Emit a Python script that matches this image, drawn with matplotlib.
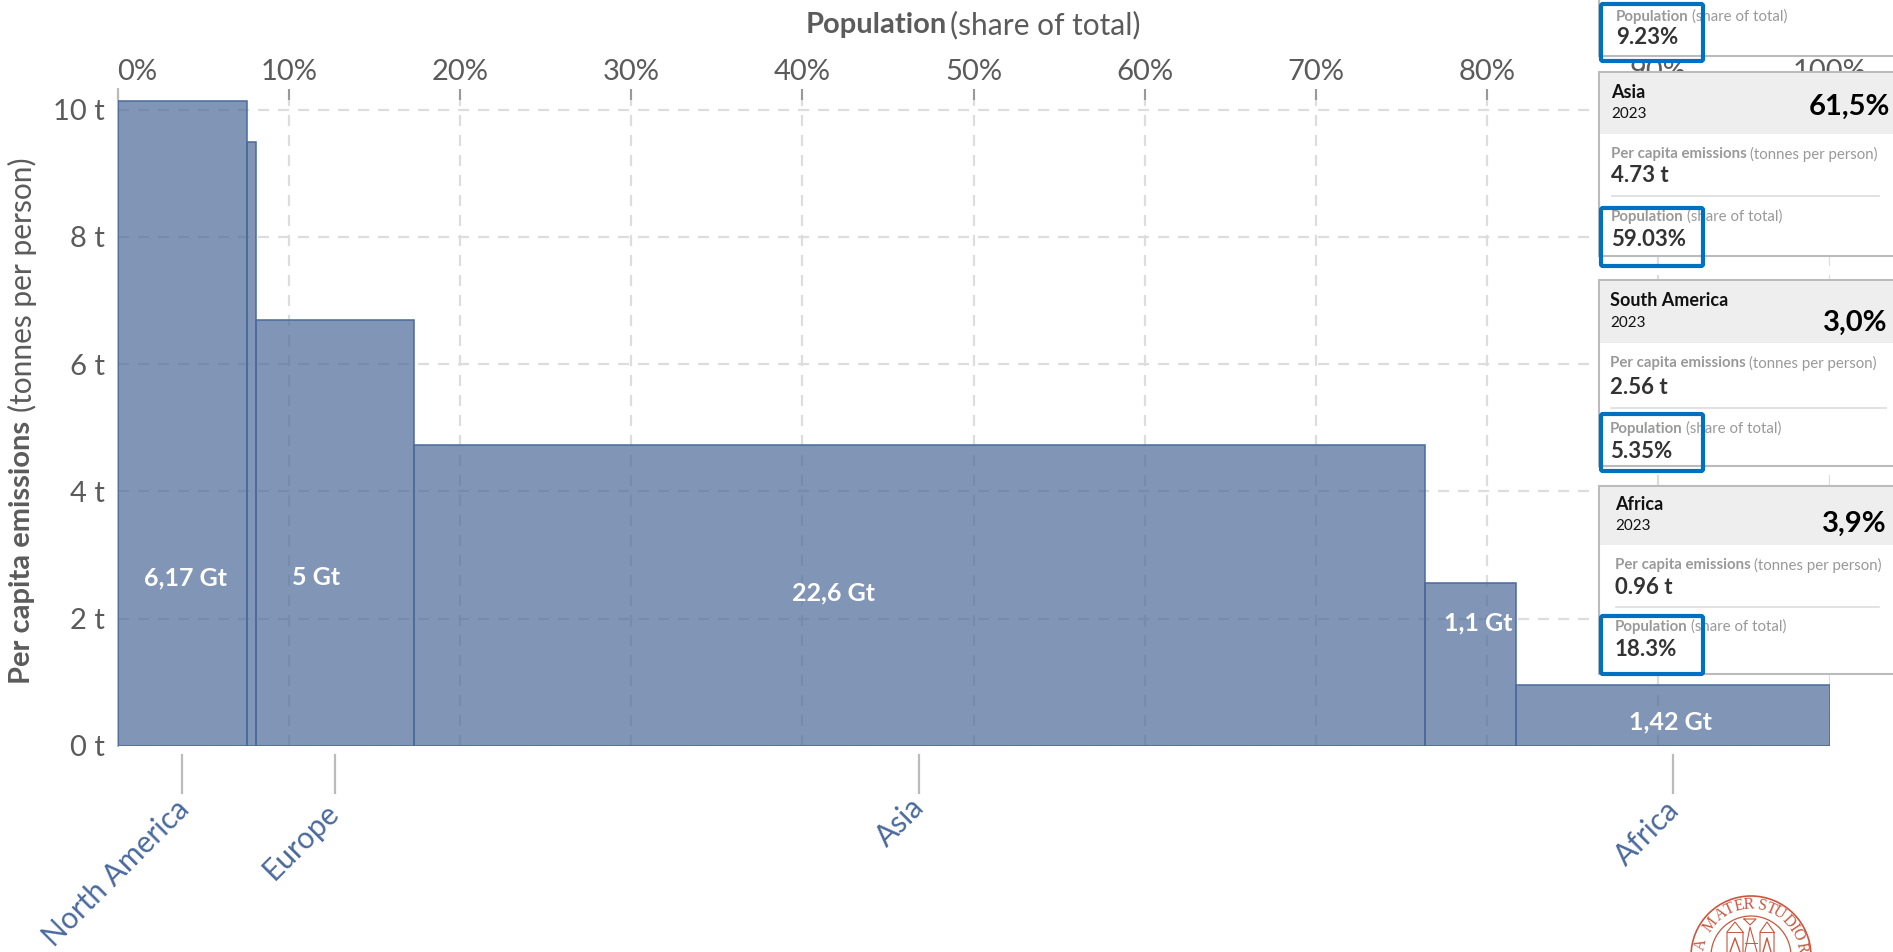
import numpy as np
import matplotlib
matplotlib.use('Agg')
import matplotlib.pyplot as plt
from matplotlib.patches import Rectangle, FancyBboxPatch, Circle

regions = ['North America', 'Oceania', 'Europe', 'Asia', 'South America', 'Africa']
pop_share = [7.55, 0.55, 9.23, 59.03, 5.35, 18.3]
per_capita = [10.13, 9.5, 6.69, 4.73, 2.56, 0.96]
x_ticks = [0, 10, 20, 30, 40, 50, 60, 70, 80, 90, 100]
y_ticks = [0, 2, 4, 6, 8, 10]

gt_labels = ['6,17 Gt', '5 Gt', '22,6 Gt', '1,1 Gt', '1,42 Gt']
gt_x = [4.0, 11.6, 41.8, 79.5, 90.7]
gt_y = [2.64, 2.64, 2.4, 1.93, 0.37]

card_names = ['Asia', 'South America', 'Africa']
card_share = ['61,5%', '3,0%', '3,9%']
card_capita = ['4.73 t', '2.56 t', '0.96 t']
card_pop = ['59.03%', '5.35%', '18.3%']

named = ['North America', 'Europe', 'Asia', 'Africa']

plt.rcParams['font.family'] = ['Lato', 'DejaVu Sans']
W, H = 1893, 952
blue = '#4a6a9e'
fill = '#4c6898'
gray = '#5b5b5b'

fig = plt.figure(figsize=(W / 100, H / 100), dpi=100)

# main axes, placed in pixels
x0, x1, y_top, y_bot = 117.5, 1829.5, 89, 745.7
ax = fig.add_axes([x0 / W, 1 - y_bot / H, (x1 - x0) / W, (y_bot - y_top) / H])
ax.set_xlim(0, 100)
ax.set_ylim(0, (y_bot - y_top) / 63.6)

left = np.concatenate([[0], np.cumsum(pop_share)[:-1]])
ax.bar(left, per_capita, width=pop_share, align='edge', color=fill, alpha=0.7, zorder=3)
ax.bar(left, per_capita, width=pop_share, align='edge', facecolor='none', edgecolor=blue, linewidth=1.1, zorder=4)

ax.grid(True, color='#dddddd', linestyle=(0, (5, 4)), linewidth=1.6, zorder=1)
ax.set_axisbelow(True)
for s in ['top', 'right', 'bottom']:
    ax.spines[s].set_visible(False)
ax.spines['left'].set_color('#bbbbbb')
ax.spines['left'].set_linewidth(1.5)

ax.xaxis.tick_top()
ax.set_xticks(x_ticks)
ax.set_xticklabels([str(v) + '%' for v in x_ticks])
ax.set_yticks(y_ticks)
ax.set_yticklabels([str(v) + ' t' for v in y_ticks])
ax.tick_params(axis='x', direction='in', length=8, width=1.5, color='#999999', labelsize=21, labelcolor=gray, pad=3)
ax.tick_params(axis='y', length=0, labelsize=21, labelcolor=gray, pad=9)
ax.get_xticklabels()[0].set_ha('left')

for i in range(len(gt_labels)):
    ax.text(gt_x[i], gt_y[i], gt_labels[i], color='white', fontsize=18, fontweight='bold',
            ha='center', va='center', zorder=5)

# overlay in pixel coordinates for everything outside the plot
ov = fig.add_axes([0, 0, 1, 1], zorder=5)
ov.set_xlim(0, W)
ov.set_ylim(H, 0)
ov.axis('off')
ov.patch.set_alpha(0)

ov.text(806, 25, 'Population', fontsize=21, fontweight='bold', color=gray, ha='left', va='center')
ov.text(950, 25, '(share of total)', fontsize=21.5, color=gray, ha='left', va='center')
ov.text(22, 684, 'Per capita emissions', fontsize=21, fontweight='bold', color=gray, rotation=90, ha='center', va='bottom')
ov.text(22, 412, '(tonnes per person)', fontsize=21.5, color=gray, rotation=90, ha='center', va='bottom')

# region labels under the bars
label_right = [195, 344, 930, 1685]
label_top = [795, 798, 793, 795]
for name, xr, yt in zip(named, label_right, label_top):
    i = regions.index(name)
    xm = x0 + (left[i] + pop_share[i] / 2) * (x1 - x0) / 100
    ov.plot([xm, xm], [755, 793], color='#bbbbbb', linewidth=1.6)
    ov.text(xr, yt, name, color=blue, fontsize=21.5, rotation=45, ha='right', va='top')


def blue_box(y0, y1):
    ov.add_patch(FancyBboxPatch((1601, y0 + 2), 102, y1 - y0 - 4, boxstyle='round,pad=0,rounding_size=2',
                                facecolor='none', edgecolor='#0070c0', linewidth=3.0, zorder=6))


def pop_text(tx, y_label, y_val, value):
    ov.text(tx, y_label, 'Population', fontsize=10.8, fontweight='bold', color='#999999', va='center', zorder=3)
    ov.text(tx + 76, y_label, '(share of total)', fontsize=10.8, color='#999999', va='center', zorder=3)
    ov.text(tx, y_val, value, fontsize=16, fontweight='bold', color='#333333', va='center', zorder=3)


# top card, cut by the edge of the picture
ov.add_patch(Rectangle((1599, -10), 320, 66, facecolor='white', edgecolor='#bbbbbb', linewidth=1.5, zorder=2))
pop_text(1616, 17, 38, '9.23%')
blue_box(2, 63)

card_y0 = [72, 280, 486]
card_y1 = [255.5, 466, 674]
head_to = [134, 343, 545]
text_x = [1611, 1610, 1615]
sep_end = [1879, 1886, 1879]
share_right = [1890, 1887, 1887]
name_y = [93, 300, 504]
year_y = [114, 323, 526]
share_y = [107, 323, 524]
capita_label_y = [154, 363, 565]
capita_val_y = [176, 387, 587]
sep_y = [196, 408, 607]
pop_label_y = [217, 429, 627]
pop_val_y = [239, 452, 649]
box_y0 = [206, 412, 614]
box_y1 = [268, 473, 676]

for i in range(3):
    tx = text_x[i]
    ov.add_patch(Rectangle((1599, card_y0[i]), 320, card_y1[i] - card_y0[i], facecolor='white', edgecolor='#bbbbbb', linewidth=1.5, zorder=2))
    ov.add_patch(Rectangle((1600, card_y0[i] + 1), 320, head_to[i] - card_y0[i] - 1, facecolor='#eeeeee', edgecolor='none', zorder=2))
    ov.text(tx, name_y[i], card_names[i], fontsize=13, fontweight='bold', color='#111111', va='center', zorder=3)
    ov.text(tx, year_y[i], '2023', fontsize=11, color='#111111', va='center', zorder=3)
    ov.text(share_right[i], share_y[i], card_share[i], fontsize=21, fontweight='bold', color='black',
            ha='right', va='center', zorder=3)
    ov.text(tx, capita_label_y[i], 'Per capita emissions', fontsize=10.8, fontweight='bold', color='#999999', va='center', zorder=3)
    ov.text(tx + 139, capita_label_y[i], '(tonnes per person)', fontsize=10.8, color='#999999', va='center', zorder=3)
    ov.text(tx, capita_val_y[i], card_capita[i], fontsize=16, fontweight='bold', color='#333333', va='center', zorder=3)
    ov.plot([tx + 1, sep_end[i]], [sep_y[i], sep_y[i]], color='#dddddd', linewidth=1.2, zorder=3)
    pop_text(tx, pop_label_y[i], pop_val_y[i], card_pop[i])
    blue_box(box_y0[i], box_y1[i])

# university seal at the bottom, cut by the edge
red = '#c9573f'
cx, cy = 1751, 956
ov.add_patch(Circle((cx, cy), 60, facecolor='none', edgecolor=red, linewidth=1.2))
ov.add_patch(Circle((cx, cy), 40, facecolor='none', edgecolor=red, linewidth=0.9))
seal = 'AMATERSTUDIOR'
seal_ang = [-77, -53, -35, -24.5, -13.5, -3, 12.6, 23, 33, 47, 56, 65, 80]
for c, ang in zip(seal, seal_ang):
    a = np.radians(ang)
    ov.text(cx + 51 * np.sin(a), cy - 51 * np.cos(a), c, color=red, fontsize=11.5, family='Liberation Serif',
            rotation=-ang, rotation_mode='anchor', ha='center', va='center')
# towers and spire of the building
for bx, bw in [(1727, 16), (1760, 14)]:
    ov.plot([bx, bx, bx + bw / 2, bx + bw, bx + bw], [952, 932, 922, 932, 952], color=red, linewidth=0.8)
    ov.plot([bx, bx + bw], [932, 932], color=red, linewidth=0.7)
    ov.plot([bx + 3, bx + bw / 2, bx + bw - 3], [952, 938, 952], color=red, linewidth=1.0)
ov.plot([1745, 1750, 1757], [952, 927, 952], color=red, linewidth=0.8)
ov.plot([1745, 1757], [943, 943], color=red, linewidth=0.7)
ov.plot([1744, 1750, 1756, 1744], [919, 925, 919, 919], color=red, linewidth=0.8)

fig.savefig('out.png', dpi=100, facecolor='white')
